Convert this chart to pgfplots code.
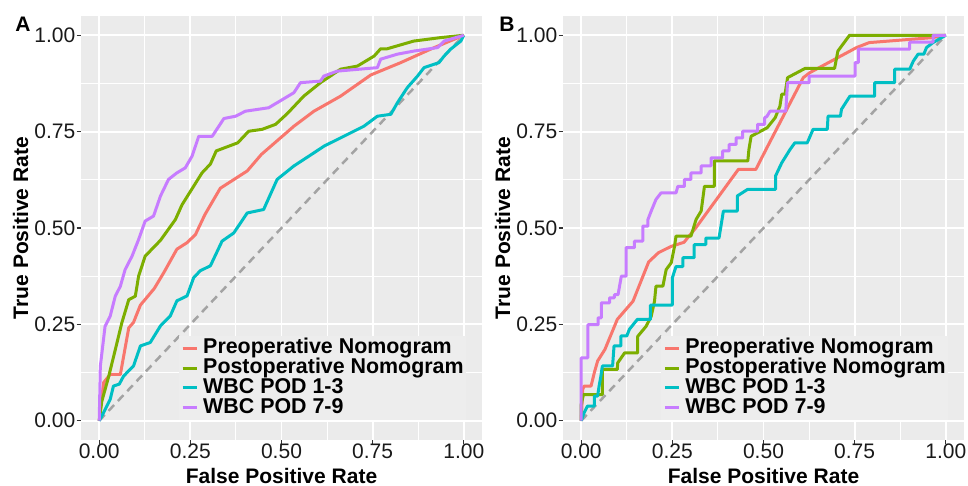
\documentclass[border=0pt]{standalone}
\usepackage{fontspec}
\setmainfont{Liberation Sans}
\usepackage{pgfplots}
\pgfplotsset{compat=1.18}

\definecolor{ggpanel}{HTML}{EBEBEB}
\definecolor{gglegend}{HTML}{EDEDED}
\definecolor{ggred}{HTML}{F8766D}
\definecolor{gggreen}{HTML}{7CAE00}
\definecolor{ggcyan}{HTML}{00BFC4}
\definecolor{ggpurple}{HTML}{C77CFF}
\definecolor{ggdiag}{HTML}{A3A3A3}
\definecolor{ggtick}{HTML}{333333}

\newcommand{\ggfont}{\fontsize{10.5bp}{12bp}\selectfont}

\pgfplotsset{
  rocpanel/.style={
    width=200.5bp, height=212bp, scale only axis,
    xmin=-0.05, xmax=1.05, ymin=-0.05, ymax=1.05,
    xtick={0,0.25,0.5,0.75,1}, ytick={0,0.25,0.5,0.75,1},
    xticklabels={0.00,0.25,0.50,0.75,1.00},
    yticklabels={0.00,0.25,0.50,0.75,1.00},
    minor tick num=1,
    axis background/.style={fill=ggpanel},
    axis line style={draw=none},
    grid=both,
    major grid style={white, line width=0.9bp},
    minor grid style={white, line width=0.45bp},
    tick align=outside, tick pos=left,
    major tick length=2.2bp, minor tick length=0pt,
    tick style={ggtick, line width=0.6bp},
    ticklabel style={font=\ggfont, text=black!90},
    xticklabel style={anchor=north, inner sep=0pt, yshift=0.5bp},
    yticklabel style={anchor=east, inner sep=0pt, xshift=-0.5bp},
    label style={font=\bfseries\ggfont},
    xlabel={False Positive Rate}, ylabel={True Positive Rate},
    xlabel style={at={(rel axis cs:0.5,0)}, anchor=base, yshift=-21.5bp},
    ylabel style={at={(rel axis cs:0,0.5)}, anchor=base, yshift=26.5bp},
    legend style={at={(rel axis cs:0.244,0.047)}, anchor=south west,
      fill=gglegend, draw=none, font=\bfseries\fontsize{10.7bp}{12bp}\selectfont,
      inner sep=1bp, row sep=0pt,
      nodes={inner sep=0pt, text height=7.6bp, text depth=2.3bp},
      /tikz/every odd column/.append style={column sep=2.5bp}},
    legend cell align=left,
    legend image code/.code={\draw[#1] (0bp,0bp) -- (7bp,0bp);},
    every axis plot/.append style={line width=1.5bp, line join=round},
  },
  diag/.style={ggdiag, line width=1.25bp, dash pattern=on 4bp off 2.8bp, forget plot},
}

\begin{document}
\begin{tikzpicture}
\path[use as bounding box] (0,0) rectangle (484bp,243bp);

% ---------- panel A ----------
\begin{axis}[rocpanel, at={(40.5bp,23bp)}, anchor=south west]
\addplot[diag] coordinates {(0,0) (1,1)};
\addplot[ggred] coordinates {
(0,0) (0.012,0.099) (0.03,0.12) (0.058,0.12) (0.081,0.241) (0.094,0.255)
(0.113,0.300) (0.151,0.343) (0.177,0.384) (0.213,0.445) (0.241,0.462)
(0.264,0.483) (0.29,0.535) (0.332,0.603) (0.406,0.648) (0.445,0.691)
(0.534,0.764) (0.589,0.803) (0.662,0.842) (0.745,0.897) (0.827,0.929)
(0.909,0.964) (1,1)};
\addlegendentry{Preoperative Nomogram}
\addplot[gggreen] coordinates {
(0,0) (0.007,0.05) (0.026,0.115) (0.044,0.184) (0.062,0.254) (0.081,0.314)
(0.099,0.323) (0.108,0.375) (0.126,0.427) (0.168,0.468) (0.209,0.522)
(0.227,0.560) (0.282,0.643) (0.305,0.666) (0.321,0.700) (0.38,0.721)
(0.41,0.751) (0.447,0.756) (0.484,0.769) (0.516,0.797) (0.561,0.842)
(0.607,0.877) (0.662,0.912) (0.708,0.920) (0.754,0.946) (0.772,0.965)
(0.79,0.965) (0.863,0.985) (0.937,0.994) (1,1)};
\addlegendentry{Postoperative Nomogram}
\addplot[ggcyan] coordinates {
(0,0) (0.012,0.021) (0.03,0.055) (0.039,0.09) (0.055,0.095) (0.067,0.116)
(0.094,0.142) (0.113,0.194) (0.14,0.203) (0.168,0.246) (0.195,0.272)
(0.213,0.311) (0.241,0.324) (0.259,0.371) (0.277,0.389) (0.305,0.402)
(0.337,0.466) (0.369,0.487) (0.406,0.539) (0.451,0.548) (0.488,0.626)
(0.534,0.661) (0.589,0.695) (0.616,0.712) (0.671,0.738) (0.726,0.764)
(0.763,0.79) (0.80,0.795) (0.818,0.825) (0.845,0.864) (0.873,0.894)
(0.891,0.916) (0.932,0.929) (0.946,0.946) (0.964,0.964) (0.992,0.985) (1,1)};
\addlegendentry{WBC POD 1-3}
\addplot[ggpurple] coordinates {
(0,0) (0.003,0.141) (0.016,0.245) (0.03,0.271) (0.044,0.323) (0.058,0.349)
(0.071,0.392) (0.09,0.427) (0.108,0.47) (0.126,0.518) (0.149,0.531)
(0.168,0.583) (0.19,0.626) (0.213,0.643) (0.236,0.656) (0.255,0.687)
(0.273,0.738) (0.31,0.738) (0.342,0.784) (0.374,0.79) (0.401,0.803)
(0.465,0.812) (0.511,0.838) (0.534,0.851) (0.552,0.877) (0.607,0.881)
(0.616,0.894) (0.653,0.907) (0.763,0.916) (0.772,0.938) (0.818,0.951)
(0.863,0.959) (0.928,0.968) (0.946,0.985) (1,1)};
\addlegendentry{WBC POD 7-9}
\end{axis}

% ---------- panel B ----------
\begin{axis}[rocpanel, at={(281.5bp,23bp)}, anchor=south west]
\addplot[diag] coordinates {(0,0) (1,1)};
\addplot[ggred] coordinates {
(0,0) (0.004,0.081) (0.008,0.09) (0.027,0.09) (0.036,0.125) (0.045,0.155)
(0.065,0.185) (0.099,0.263) (0.142,0.31) (0.185,0.412) (0.212,0.436)
(0.246,0.452) (0.282,0.463) (0.314,0.50) (0.431,0.652) (0.479,0.652)
(0.507,0.704) (0.609,0.89) (0.627,0.903) (0.755,0.968) (0.79,0.981)
(0.965,0.994) (1,1)};
\addlegendentry{Preoperative Nomogram}
\addplot[gggreen] coordinates {
(0,0) (0,0.042) (0.006,0.068) (0.058,0.068) (0.058,0.133) (0.099,0.133)
(0.1,0.15) (0.119,0.176) (0.155,0.176) (0.155,0.219) (0.178,0.245)
(0.192,0.271) (0.201,0.31) (0.205,0.349) (0.224,0.349) (0.233,0.392)
(0.247,0.41) (0.256,0.453) (0.26,0.479) (0.301,0.479) (0.315,0.522)
(0.329,0.544) (0.338,0.608) (0.365,0.608) (0.365,0.674) (0.457,0.674)
(0.46,0.704) (0.466,0.738) (0.484,0.747) (0.51,0.76) (0.532,0.786)
(0.545,0.816) (0.55,0.847) (0.559,0.847) (0.566,0.89) (0.614,0.914)
(0.695,0.914) (0.704,0.959) (0.736,1) (1,1)};
\addlegendentry{Postoperative Nomogram}
\addplot[ggcyan] coordinates {
(0,0) (0.008,0.021) (0.017,0.038) (0.036,0.038) (0.036,0.064) (0.045,0.064)
(0.049,0.09) (0.054,0.116) (0.058,0.142) (0.086,0.142) (0.09,0.194)
(0.109,0.194) (0.109,0.22) (0.125,0.22) (0.132,0.237) (0.154,0.263)
(0.19,0.263) (0.19,0.30) (0.25,0.30) (0.25,0.371) (0.26,0.40) (0.279,0.40)
(0.279,0.423) (0.31,0.423) (0.31,0.457) (0.342,0.457) (0.342,0.474)
(0.378,0.474) (0.39,0.544) (0.428,0.544) (0.428,0.583) (0.456,0.60)
(0.533,0.60) (0.533,0.635) (0.55,0.669) (0.573,0.704) (0.586,0.721)
(0.62,0.721) (0.636,0.756) (0.675,0.756) (0.677,0.79) (0.711,0.79)
(0.714,0.808) (0.737,0.842) (0.805,0.842) (0.805,0.877) (0.86,0.877)
(0.86,0.912) (0.901,0.912) (0.911,0.933) (0.924,0.951) (0.94,0.951)
(0.947,0.968) (0.965,0.981) (1,1)};
\addlegendentry{WBC POD 1-3}
\addplot[ggpurple] coordinates {
(0,0) (0,0.163) (0.018,0.163) (0.018,0.249) (0.046,0.249) (0.046,0.267)
(0.055,0.267) (0.055,0.306) (0.078,0.306) (0.078,0.319) (0.091,0.319)
(0.091,0.327) (0.101,0.327) (0.11,0.375) (0.123,0.375) (0.123,0.449)
(0.146,0.449) (0.146,0.466) (0.169,0.466) (0.169,0.505) (0.183,0.505)
(0.183,0.522) (0.192,0.544) (0.205,0.574) (0.219,0.591) (0.26,0.591)
(0.265,0.608) (0.283,0.608) (0.283,0.626) (0.301,0.626) (0.301,0.643)
(0.329,0.643) (0.329,0.661) (0.356,0.661) (0.356,0.682) (0.388,0.682)
(0.388,0.70) (0.406,0.70) (0.406,0.717) (0.425,0.717) (0.425,0.734)
(0.443,0.734) (0.443,0.751) (0.484,0.751) (0.484,0.769) (0.503,0.769)
(0.503,0.786) (0.509,0.789) (0.518,0.803) (0.561,0.803) (0.566,0.877)
(0.625,0.877) (0.625,0.894) (0.751,0.894) (0.751,0.929) (0.76,0.929)
(0.76,0.964) (0.901,0.964) (0.901,0.982) (0.965,0.982) (0.965,1) (1,1)};
\addlegendentry{WBC POD 7-9}
\end{axis}

\node[anchor=base west, inner sep=0pt, font=\bfseries\ggfont] at (7.5bp,227bp) {A};
\node[anchor=base west, inner sep=0pt, font=\bfseries\ggfont] at (249.5bp,227bp) {B};
\end{tikzpicture}
\end{document}
